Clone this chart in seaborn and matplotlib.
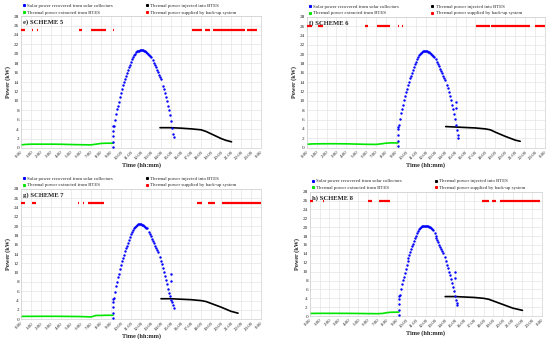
import numpy as np
import pandas as pd
import matplotlib
matplotlib.use('Agg')
import matplotlib.pyplot as plt
from matplotlib.lines import Line2D
import seaborn as sns

sns.set_style('white')
plt.rcParams['font.family'] = ['Liberation Serif', 'DejaVu Serif']

# ---- data ----
hour_labels = [f'{h}:00' for h in range(24)] + ['0:00']
yticks = list(range(0, 29, 2))

# solar power recovered (blue dots), shared time base (h)
solar_t = [9.17, 9.17, 9.17, 9.17, 9.2, 9.3, 9.4, 9.5, 9.6, 9.7, 9.8, 9.9,
           10.0, 10.1, 10.2, 10.3, 10.4, 10.5, 10.6, 10.7, 10.8, 10.9,
           11.0, 11.1, 11.2, 11.3, 11.4, 11.5, 11.6, 11.7, 11.8, 11.9,
           12.0, 12.1, 12.2, 12.3, 12.4, 12.5, 12.6, 12.7, 12.8, 12.9,
           13.0, 13.1, 13.2, 13.3, 13.4, 13.5, 13.6, 13.7, 13.8, 13.9,
           14.0, 14.1, 14.2, 14.3, 14.4, 14.5, 14.6, 14.7, 14.8, 14.9,
           15.0, 15.1, 15.2, 15.25]
nan = np.nan
solar_s5 = [0.2, 1.3, 2.5, 3.6, 4.6, 4.7, 6.0, 7.2, 8.2, 9.0, 9.8, 10.8,
            11.7, 12.5, 13.3, 14.0, 14.7, 15.3, 15.9, 16.5, 17.1, 17.7,
            18.3, 18.8, 19.3, 19.7, 20.0, 20.3, 20.5, 20.6, 20.7, 20.8,
            20.8, 20.8, 20.8, 20.7, 20.6, 20.4, 20.2, 20.0, 19.8, 19.6,
            19.4, nan, 18.6, 18.1, 17.6, 17.1, 16.6, 16.1, 15.6, 15.1,
            14.6, nan, 13.2, 12.5, 11.7, 10.8, 10.0, 9.0, 8.0, 7.0,
            5.8, 4.2, 3.0, 2.3]
solar_s6 = [0.3, 1.5, 2.8, 3.9, 4.5, 4.8, 6.1, 7.3, 8.3, 9.2, 10.1, 11.0,
            11.8, 12.6, 13.4, 14.1, 14.8, 15.4, 16.0, 16.6, 17.2, 17.8,
            18.4, 18.9, 19.4, 19.8, 20.1, 20.3, 20.5, 20.6, 20.7, 20.7,
            20.7, 20.6, 20.5, 20.4, 20.3, 20.1, 19.9, 19.7, 19.5, nan,
            18.9, 18.4, 17.9, 17.4, 16.9, 16.4, 15.9, 15.4, 14.9, 14.4,
            nan, 13.5, 12.7, 11.9, 11.0, 10.1, 9.2, 8.2, 7.2, 6.1,
            4.9, 3.8, 2.8, 2.1]
solar_s7 = [0.2, 1.4, 2.6, 3.7, 4.4, 4.6, 5.9, 7.1, 8.1, 9.0, 9.8, 10.7,
            11.6, 12.4, 13.2, 13.9, 14.6, 15.2, 15.8, 16.4, 17.0, 17.6,
            18.2, 18.7, 19.2, 19.6, 19.9, 20.1, 20.3, 20.4, 20.4, 20.4,
            20.4, 20.3, 20.2, 20.1, 19.9, 19.7, 19.5, nan, 18.8, 18.3,
            17.8, 17.3, 16.8, 16.3, 15.8, 15.3, 14.8, 14.4, nan, 13.3,
            12.6, 11.8, 11.0, 10.2, 9.3, 8.4, 7.5, 6.6, 5.7, 4.9,
            4.2, 3.6, 3.0, 2.5]
solar_s8 = [0.3, 1.4, 2.7, 3.8, 4.5, 4.7, 6.0, 7.2, 8.1, 8.9, 9.7, 10.6,
            11.5, 12.3, 13.1, 13.8, 14.5, 15.1, 15.7, 16.3, 16.9, 17.5,
            18.1, 18.6, 19.1, 19.5, 19.8, 20.0, 20.2, 20.3, 20.3, 20.3,
            20.3, 20.3, 20.2, 20.1, 20.0, 19.8, 19.6, 19.4, nan, 18.6,
            18.1, 17.6, 17.1, 16.6, 16.1, 15.6, 15.1, 14.6, 14.1, nan,
            13.2, 12.4, 11.6, 10.8, 10.0, 9.2, 8.3, 7.4, 6.5, 5.6,
            4.6, 3.7, 3.0, 2.4]
solar_out_t = [15.0, 15.02]
solar_out_s6 = [9.8, 8.4]
solar_out_s7 = [9.8, 8.3]
solar_out_s8 = [9.9, 8.5]

# thermal power extracted from BTES (green)
extr_t = [0.0, 0.5, 1.0, 2.0, 3.0, 4.0, 5.0, 6.0, 7.0, 7.5, 8.0, 8.5, 9.2]
extr_s5 = [0.65, 0.75, 0.8, 0.8, 0.8, 0.78, 0.72, 0.68, 0.65, 0.8, 0.95, 1.0, 1.0]
extr_s6 = [0.7, 0.78, 0.8, 0.82, 0.82, 0.8, 0.75, 0.7, 0.68, 0.8, 0.95, 1.0, 1.0]
extr_s7 = [0.6, 0.62, 0.62, 0.63, 0.63, 0.62, 0.6, 0.57, 0.5, 0.8, 0.82, 0.85, 0.85]
extr_s8 = [0.6, 0.62, 0.63, 0.63, 0.63, 0.62, 0.6, 0.57, 0.55, 0.6, 0.8, 0.88, 0.9]

# thermal power injected into BTES (black)
inj_t5 = [13.9, 15.0, 16.0, 17.0, 18.0, 18.5, 19.0, 19.5, 20.0, 20.5, 21.05]
inj_s5 = [4.3, 4.3, 4.2, 4.05, 3.85, 3.5, 3.0, 2.5, 2.0, 1.6, 1.3]
inj_t6 = [14.0, 15.0, 16.0, 17.0, 18.0, 18.5, 19.0, 20.0, 21.0, 21.5]
inj_s6 = [4.5, 4.4, 4.3, 4.2, 4.0, 3.8, 3.3, 2.4, 1.6, 1.35]
inj_t7 = [14.0, 15.0, 16.0, 17.0, 18.0, 18.5, 19.0, 20.0, 21.0, 21.7]
inj_s7 = [4.4, 4.4, 4.3, 4.2, 4.0, 3.8, 3.4, 2.6, 1.7, 1.3]
inj_t8 = [14.0, 15.0, 16.0, 17.0, 18.0, 18.5, 19.0, 20.0, 21.0, 22.0]
inj_s8 = [4.4, 4.4, 4.3, 4.2, 4.0, 3.8, 3.4, 2.6, 1.8, 1.3]

# back-up system on-periods (red), level and (start, end) in hours
backup_level = {5: 25, 6: 26, 7: 25, 8: 26}
backup_s5 = [(0.0, 0.4), (1.05, 1.15), (1.55, 1.65), (5.8, 6.1), (7.0, 8.5),
             (9.15, 9.25), (17.1, 18.1), (18.4, 18.9), (19.2, 22.4), (22.6, 23.6)]
backup_s6 = [(0.0, 0.5), (1.17, 1.67), (5.87, 6.2), (7.05, 8.4), (9.15, 9.25),
             (9.55, 9.65), (17.1, 18.5), (18.6, 22.5), (23.0, 24.0)]
backup_s7 = [(0.0, 0.4), (1.07, 1.5), (5.65, 5.75), (6.15, 6.25), (6.7, 8.3),
             (17.6, 18.1), (18.7, 19.4), (20.1, 24.0)]
backup_s8 = [(0.0, 0.3), (1.35, 1.45), (6.0, 6.4), (7.1, 8.3), (17.8, 18.5),
             (18.8, 19.3), (19.7, 23.8)]

panels = [
    ('e) SCHEME 5', 5, solar_s5, None, extr_s5, inj_t5, inj_s5, backup_s5,
     [0.0382, 0.570, 0.4364, 0.383]),
    ('f) SCHEME 6', 6, solar_s6, solar_out_s6, extr_s6, inj_t6, inj_s6, backup_s6,
     [0.5576, 0.571, 0.4333, 0.380]),
    ('g) SCHEME 7', 7, solar_s7, solar_out_s7, extr_s7, inj_t7, inj_s7, backup_s7,
     [0.0382, 0.072, 0.4364, 0.379]),
    ('h) SCHEME 8', 8, solar_s8, solar_out_s8, extr_s8, inj_t8, inj_s8, backup_s8,
     [0.5636, 0.081, 0.4214, 0.362]),
]

labels = ['Solar power recovered from solar collectors',
          'Thermal power extracted from BTES',
          'Thermal power injected into BTES',
          'Thermal power supplied by back-up system']
colors = ['#0000ff', '#00e600', '#000000', '#ff0000']

fig = plt.figure(figsize=(5.5, 3.44), dpi=100)

for title, n, solar, out, extr, inj_t, inj, backup, pos in panels:
    ax = fig.add_axes(pos)

    df_solar = pd.DataFrame({'t': solar_t, 'p': solar}).dropna()
    sns.scatterplot(data=df_solar, x='t', y='p', color=colors[0], s=3,
                    linewidth=0, ax=ax, zorder=3)
    if out is not None:
        sns.scatterplot(x=solar_out_t, y=out, color=colors[0], s=3,
                        linewidth=0, ax=ax, zorder=3)

    sns.lineplot(x=extr_t, y=extr, color=colors[1], lw=1.2, ax=ax, zorder=2)
    sns.lineplot(x=inj_t, y=inj, color=colors[2], lw=1.2, ax=ax, zorder=2)

    rows = []
    for i, (a, b) in enumerate(backup):
        rows.append({'run': i, 't': a, 'p': backup_level[n]})
        rows.append({'run': i, 't': b, 'p': backup_level[n]})
    df_red = pd.DataFrame(rows)
    sns.lineplot(data=df_red, x='t', y='p', units='run', estimator=None,
                 color=colors[3], lw=1.6, ax=ax, zorder=3,
                 solid_capstyle='butt')

    ax.set_xlim(0, 24)
    ax.set_ylim(0, 28)
    ax.set_xticks(range(25))
    ax.set_xticklabels(hour_labels, rotation=45, ha='right',
                       rotation_mode='anchor', fontsize=3.5)
    ax.set_yticks(yticks)
    ax.set_yticklabels([str(v) for v in yticks], fontsize=3.7)
    ax.tick_params(length=0, pad=1.5)
    ax.grid(True, color='#e4e4e4', lw=0.5)
    for sp in ax.spines.values():
        sp.set_color('#d0d0d0')
        sp.set_linewidth(0.5)

    ax.set_xlabel('Time (hh:mm)', fontsize=4.4, fontweight='bold', labelpad=1)
    ax.set_ylabel('Power (kW)', fontsize=4.4, fontweight='bold', labelpad=2)
    ax.text(0.008, 0.975, title, transform=ax.transAxes, fontsize=4.8,
            fontweight='bold', va='top', ha='left')

    handles = [Line2D([], [], marker='s', ms=1.2, ls='', color=c) for c in colors]
    ax.legend(handles, labels, ncol=2, loc='lower left',
              bbox_to_anchor=(0.0, 1.0), frameon=False, fontsize=3.5,
              handlelength=0.6, handletextpad=0.4, columnspacing=6.6,
              labelspacing=0.5, borderaxespad=0.2, borderpad=0.1)

fig.savefig('out.png', dpi=100)
